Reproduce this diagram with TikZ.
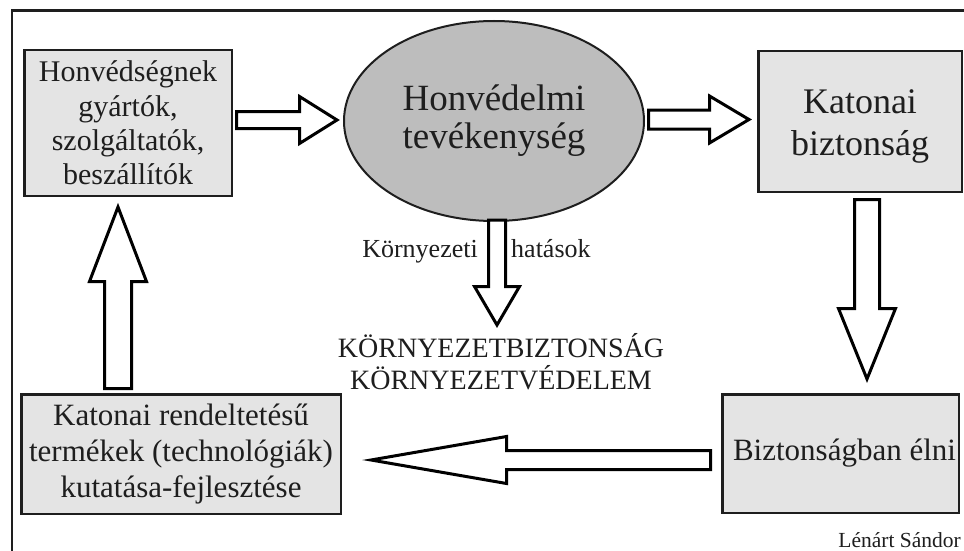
\documentclass[tikz,border=0pt]{standalone}
\usepackage{fontspec}
\setmainfont{Liberation Serif}
\usetikzlibrary{calc,shapes.geometric}

\definecolor{boxgray}{HTML}{E4E4E4}
\definecolor{ovalgray}{HTML}{BDBDBD}
\definecolor{ink}{HTML}{1E1E1E}

\tikzset{
  panel/.style={draw=ink, line width=2.5pt, fill=boxgray, inner sep=0pt, align=center, text=ink},
  oval/.style={ellipse, draw=ink, line width=2pt, fill=ovalgray, inner sep=0pt, align=center, text=ink},
  blockarr/.style={draw=black, fill=white, line width=3pt, line join=miter},
  plaintext/.style={text=ink, inner sep=0pt, align=center},
}

% hollow block arrow: #1 start, #2 tip, #3 shaft half width, #4 head half width, #5 head length
\newcommand\blockarrow[5]{%
  \coordinate (bahead) at ($(#2)!#5!(#1)$);
  \draw[blockarr] ($(#1)!#3!90:(#2)$) -- ($(bahead)!#3!90:(#2)$) -- ($(bahead)!#4!90:(#2)$)
    -- (#2) -- ($(bahead)!#4!-90:(#2)$) -- ($(bahead)!#3!-90:(#2)$) -- ($(#1)!#3!-90:(#2)$) -- cycle;}

\begin{document}
\begin{tikzpicture}[x=1pt,y=-1pt]
\useasboundingbox (0,0) rectangle (964,551);
\clip (0,0) rectangle (964,551);
\fill[white] (0,0) rectangle (964,551);

% frame
\draw[ink, line width=2.7pt, line join=miter] (12,560) -- (12,10.5) -- (970,10.5);

% boxes
\node[panel, minimum width=207.5pt, minimum height=145.5pt, font=\fontsize{30}{34.3}\selectfont] (sup) at (128,123)
  {Honvédségnek\\gyártók,\\szolgáltatók,\\beszállítók};
\node[oval, minimum width=300pt, minimum height=200pt, font=\fontsize{37}{38}\selectfont] (hv) at (494,121)
  {Honvédelmi\\tevékenység};
\node[panel, minimum width=203.5pt, minimum height=140.5pt] (kb) at (860,121.5) {};
\node[plaintext, font=\fontsize{36}{42}\selectfont] (kbt) at ($(kb.center)+(0,5)$) {Katonai\\biztonság};
\node[panel, minimum width=236.5pt, minimum height=118.5pt] (be) at (840.5,453.5) {};
\node[plaintext, font=\fontsize{31}{36}\selectfont] (bet) at ($(be.center)+(4,0)$) {Biztonságban élni};
\node[panel, minimum width=319.5pt, minimum height=119.5pt, font=\fontsize{31}{36}\selectfont] (kf) at (181,454)
  {Katonai rendeltetésű\\termékek (technológiák)\\kutatása-fejlesztése};

% free texts
\node[plaintext, font=\fontsize{28}{32}\selectfont] (env) at (501,362) {KÖRNYEZETBIZTONSÁG\\KÖRNYEZETVÉDELEM};
\node[plaintext, anchor=base east, font=\fontsize{26}{30}\selectfont] (ke) at (478,257) {Környezeti};
\node[plaintext, anchor=base west, font=\fontsize{26}{30}\selectfont] (ha) at (511,257) {hatások};
\node[plaintext, anchor=base east, font=\fontsize{21.5}{24}\selectfont] (au) at (961,547) {Lénárt Sándor};

% arrow end points
\coordinate (a1s) at ($(sup.east |- hv.west)+(3.5,-1)$);
\coordinate (a1t) at ($(hv.west)+(-6,-1)$);
\coordinate (a2s) at ($(hv.east)+(3.5,-1.5)$);
\coordinate (a2t) at ($(kb.west |- a2s)+(-8,0)$);
\coordinate (a3s) at ($(hv.south)+(3,-2)$);
\coordinate (a3t) at ($(hv.south)+(3,103)$);
\coordinate (a4s) at ($(kb.south)+(7,6.5)$);
\coordinate (a4t) at ($(a4s |- be.north)+(0,-14)$);
\coordinate (a5s) at ($(be.west)+(-10.5,6.5)$);
\coordinate (a5t) at ($(kf.east |- a5s)+(29,0)$);
\coordinate (a6s) at ($(kf.north)+(-63,-4.5)$);
\coordinate (a6t) at ($(a6s |- sup.south)+(0,10)$);

% block arrows
\blockarrow{a1s}{a1t}{8.5pt}{23.5pt}{37.5pt}
\blockarrow{a2s}{a2t}{9.5pt}{23.5pt}{39.5pt}
\blockarrow{a3s}{a3t}{8.5pt}{22.5pt}{38.5pt}
\blockarrow{a4s}{a4t}{12.5pt}{28.5pt}{70.5pt}
\blockarrow{a5s}{a5t}{9.5pt}{23.5pt}{135.5pt}
\blockarrow{a6s}{a6t}{13.5pt}{28.5pt}{74.5pt}
\end{tikzpicture}
\end{document}
